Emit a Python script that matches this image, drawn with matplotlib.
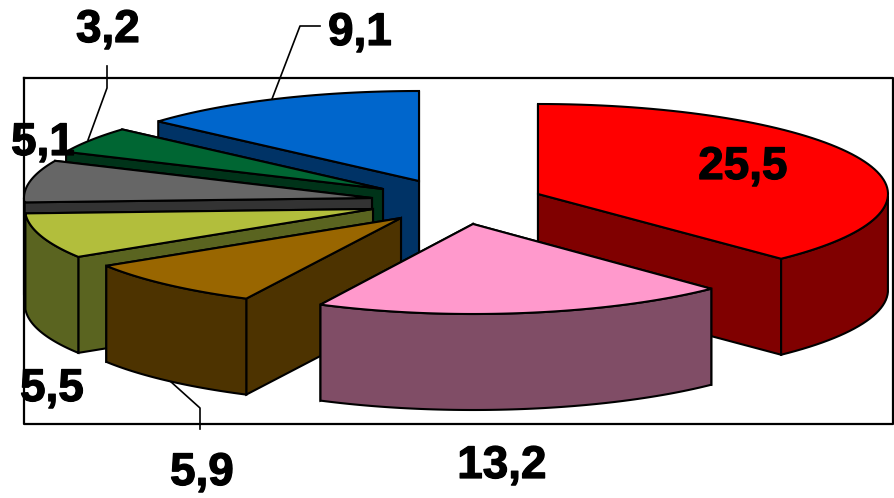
import numpy as np
import matplotlib
matplotlib.use("Agg")
import matplotlib.pyplot as plt
import matplotlib.patheffects as pe

# values clockwise from 12 o'clock
values = [25.5, 13.2, 5.9, 5.5, 5.1, 3.2, 9.1]
labels = ["25,5", "13,2", "5,9", "5,5", "5,1", "3,2", "9,1"]
top_colors = ["#FF0000", "#FF99CC", "#996600", "#B2BE3C", "#666666", "#006633", "#0066CC"]
side_colors = ["#800000", "#804D66", "#4D3300", "#5A6420", "#333333", "#003319", "#003366"]

# layout of the exploded pie, in pixels
centers = [(538, 194), (473, 224), (401, 218), (373, 209), (372, 198), (383, 189), (419, 181)]
rx_list = [350, 343, 348, 348, 348, 348, 348]
label_pos = [(743, 167), (502, 466), (202, 473), (52, 389), (43, 143), (108, 30), (360, 33)]
draw_order = [6, 5, 4, 3, 2, 0, 1]
RY, DEPTH = 90, 96

fig = plt.figure(figsize=(8.95, 4.98), dpi=100)
ax = fig.add_axes([0, 0, 1, 1])
ax.set_xlim(0, 895)
ax.set_ylim(498, 0)
ax.axis("off")

# chart frame
ax.plot([24, 893, 893, 24, 24], [78, 78, 424, 424, 78], color="black", lw=1.6, zorder=1)

# leader lines
leaders = [([320, 300, 272], [26, 26, 99]),
           ([107, 107, 88], [66, 88, 140]),
           ([170, 200, 200], [381, 408, 429])]
for xs, ys in leaders:
    ax.plot(xs, ys, color="black", lw=1.2, zorder=1)

fractions = np.array(values) / sum(values)
edges = np.concatenate([[0], np.cumsum(fractions)]) * 2 * np.pi

zorder = 2
for i in draw_order:
    cx, cy = centers[i]
    start, end = edges[i], edges[i + 1]
    thetas = np.linspace(start, end, 80)
    xs = cx + rx_list[i] * np.sin(thetas)
    ys = cy - RY * np.cos(thetas)

    # the two cut faces, the one further back first
    faces = sorted([(xs[0], ys[0]), (xs[-1], ys[-1])], key=lambda p: p[1])
    for fx, fy in faces:
        ax.fill([cx, fx, fx, cx], [cy, fy, fy + DEPTH, cy + DEPTH],
                facecolor=side_colors[i], edgecolor="black", lw=1.5, zorder=zorder)

    # outer wall, only the part facing the viewer
    front = np.cos(thetas) <= 0
    if front.any():
        ax.fill(np.concatenate([xs[front], xs[front][::-1]]),
                np.concatenate([ys[front], ys[front][::-1] + DEPTH]),
                facecolor=side_colors[i], edgecolor="black", lw=1.5, zorder=zorder)

    # top of the slice
    ax.fill(np.concatenate([[cx], xs]), np.concatenate([[cy], ys]),
            facecolor=top_colors[i], edgecolor="black", lw=1.5, zorder=zorder)
    zorder += 1

for text, (x, y) in zip(labels, label_pos):
    ax.text(x, y, text, family="Liberation Sans", fontweight="bold", fontsize=33,
            color="black", ha="center", va="center", zorder=20,
            path_effects=[pe.withStroke(linewidth=0.9, foreground="black")])

fig.savefig("out.png", dpi=100)
